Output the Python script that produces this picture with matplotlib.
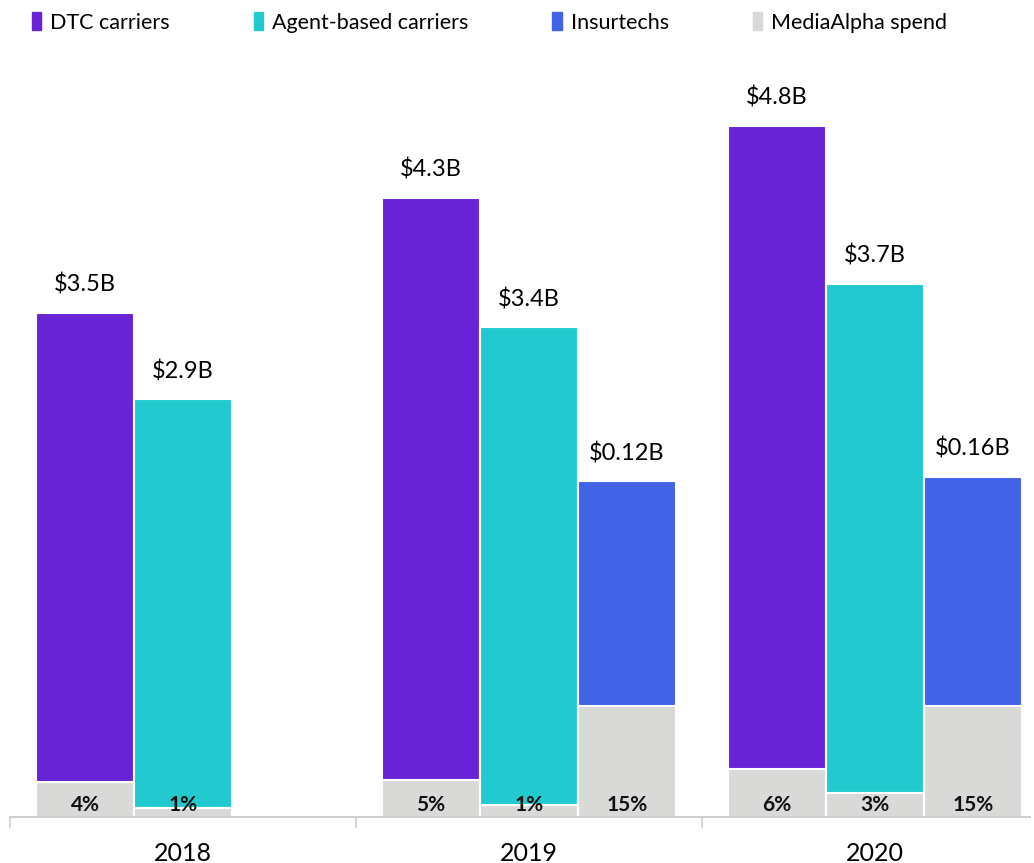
import matplotlib
matplotlib.use("Agg")
import matplotlib.pyplot as plt
from matplotlib.patches import Patch

years = ["2018", "2019", "2020"]
series = ["DTC carriers", "Agent-based carriers", "Insurtechs"]
colors = ["#6823d6", "#22cad0", "#4263e6"]
_GRAY = "#d9dad8"

# bar heights (in $B; insurtech bars are drawn taller than scale in the source)
dtc = [3.5, 4.3, 4.8]
agent = [2.9, 3.4, 3.7]
insurtech = [None, 2.33, 2.36]
value_labels = [["$3.5B", "$4.3B", "$4.8B"],
                ["$2.9B", "$3.4B", "$3.7B"],
                [None, "$0.12B", "$0.16B"]]

# MediaAlpha spend segment heights and share labels
spend = [[0.24, 0.26, 0.33],
         [0.06, 0.08, 0.17],
         [None, 0.77, 0.77]]
spend_labels = [["4%", "5%", "6%"],
                ["1%", "1%", "3%"],
                [None, "15%", "15%"]]

FONT = ["Lato", "DejaVu Sans"]

fig = plt.figure(figsize=(10.34, 8.63), dpi=100)
# axes: x from px 10 to 1030, baseline at px 817, top at px 60
ax = fig.add_axes([10 / 1034, (863 - 817) / 863, 1020 / 1034, (817 - 60) / 863])

width = 0.283
offsets = [-width, 0, width]
heights = [dtc, agent, insurtech]

for s in range(3):
    for i in range(3):
        h = heights[s][i]
        if h is None:
            continue
        x = i + offsets[s]
        ax.bar(x, h, width=width, color=colors[s], edgecolor="white", linewidth=1.5)
        ax.bar(x, spend[s][i], width=width, color=_GRAY, edgecolor="white", linewidth=1.5)
        ax.text(x, h + 0.12, value_labels[s][i], ha="center", va="bottom",
                fontsize=17, family=FONT, color="black")
        ax.text(x, 0.08, spend_labels[s][i], ha="center", va="center",
                fontsize=15, fontweight="bold", family=FONT, color="#111111")

ax.set_xlim(-0.5, 2.448)
ax.set_ylim(0, (817 - 60) / 144)
ax.set_yticks([])
for side in ["left", "right", "top"]:
    ax.spines[side].set_visible(False)
ax.spines["bottom"].set_color("#d0d0d0")
ax.spines["bottom"].set_linewidth(1.5)
ax.set_xticks([-0.5, 0.5, 1.5], labels=["", "", ""])
ax.set_xticks(range(3), labels=years, minor=True)
ax.tick_params(axis="x", which="major", length=8, color="#d0d0d0", width=1.2, direction="out")
ax.tick_params(axis="x", which="minor", length=0, pad=18, labelsize=18)
for lab in ax.get_xticklabels(minor=True):
    lab.set_family(FONT)

handles = [Patch(color=c) for c in colors] + [Patch(color=_GRAY)]
fig.legend(handles, series + ["MediaAlpha spend"], loc="upper left",
           bbox_to_anchor=(0.012, 1.008), ncol=4, frameon=False,
           prop={"family": FONT, "size": 15.5}, handlelength=0.45, handleheight=0.85,
           handletextpad=0.4, columnspacing=3.9)

fig.savefig("out.png", dpi=100)
